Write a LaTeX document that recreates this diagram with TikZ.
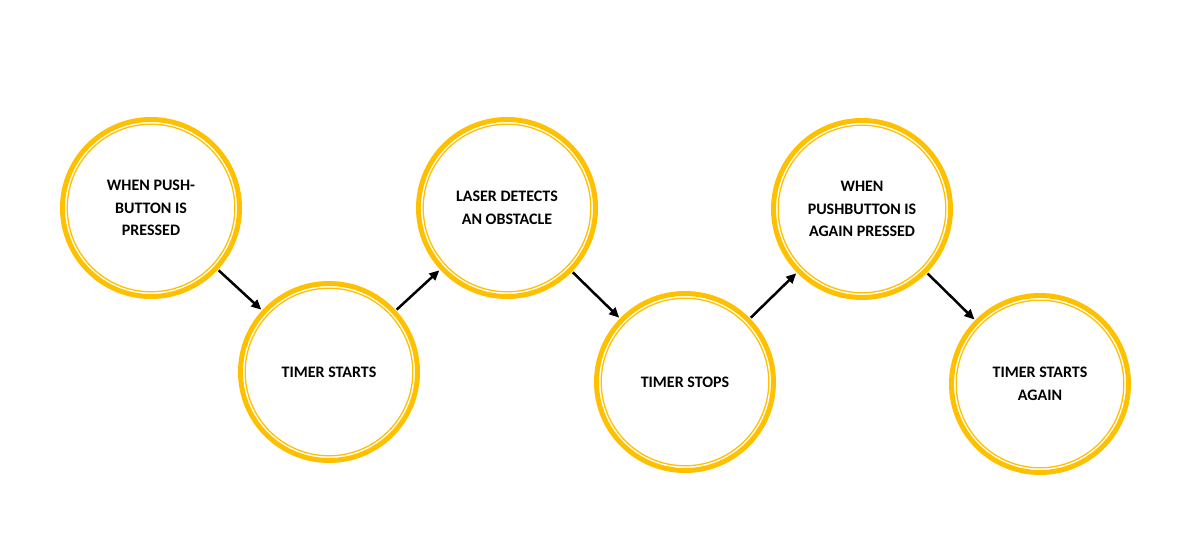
\documentclass[tikz,border=0pt]{standalone}
\usepackage{fontspec}
\setmainfont{Carlito}
\usetikzlibrary{arrows.meta}
\definecolor{gold}{HTML}{FFC000}
\tikzset{
  x=1pt, y=-1pt,
  stage/.style={circle, draw=gold, line width=5pt, minimum size=177pt, inner sep=0pt,
    align=center, font=\bfseries\fontsize{16}{22.5}\selectfont},
  innerring/.style={draw=gold, line width=1.3pt},
  flow/.style={line width=2.5pt, -{Triangle[length=10pt,width=9pt]}, shorten <=1pt, shorten >=1pt}
}
\begin{document}
\begin{tikzpicture}
\useasboundingbox (0,0) rectangle (1189,546);
\node[stage] (a) at (151,208) {WHEN PUSH-\\BUTTON IS\\PRESSED};
\node[stage] (b) at (329,372) {TIMER STARTS};
\node[stage] (c) at (507,208) {LASER DETECTS\\AN OBSTACLE};
\node[stage] (d) at (685,382) {TIMER STOPS};
\node[stage] (e) at (862,209) {WHEN\\PUSHBUTTON IS\\AGAIN PRESSED};
\node[stage] (f) at (1040,384) {TIMER STARTS\\AGAIN};
\foreach \n in {a,b,c,d,e,f} {\draw[innerring] (\n.center) circle (83.8);}
\draw[flow] (a) -- (b);
\draw[flow] (b) -- (c);
\draw[flow] (c) -- (d);
\draw[flow] (d) -- (e);
\draw[flow] (e) -- (f);
\end{tikzpicture}
\end{document}
